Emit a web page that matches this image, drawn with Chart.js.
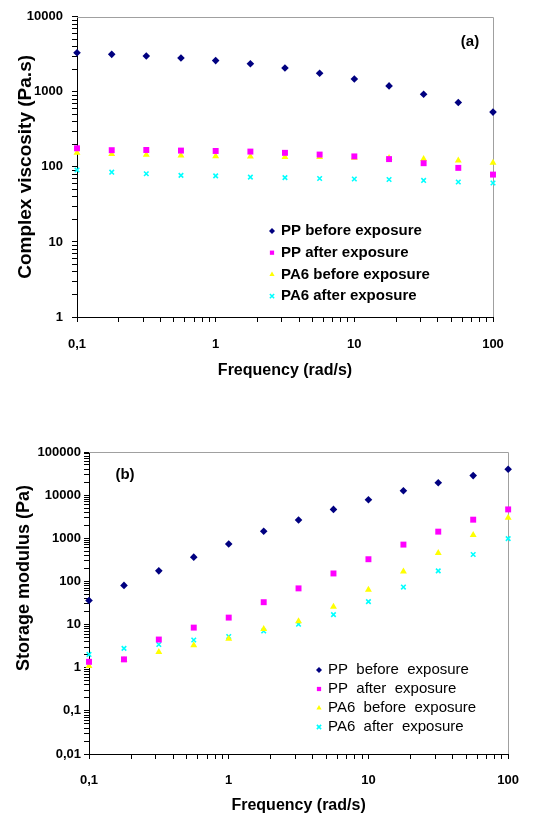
<!DOCTYPE html>
<html>
<head>
<meta charset="utf-8">
<script src="https://cdn.jsdelivr.net/npm/chart.js@4.4.0/dist/chart.umd.min.js"></script>
<style>
    body { margin: 0; background: #fff; width: 533px; height: 816px; overflow: hidden; }
    .box { position: absolute; left: 0; width: 533px; height: 392px; }
    #boxA { top: 0; }
    #boxB { top: 424px; }
</style>
</head>
<body>
<div class="box" id="boxA"><canvas id="chartA" width="533" height="392"></canvas></div>
<div class="box" id="boxB"><canvas id="chartB" width="533" height="392"></canvas></div>
<script>
// --- Data ---
const frequency = [0.1, 0.178, 0.316, 0.562, 1, 1.78, 3.16, 5.62, 10, 17.8, 31.6, 56.2, 100];
const seriesNames = ["PP before exposure", "PP after exposure", "PA6 before exposure", "PA6 after exposure"];

// (a) complex viscosity, Pa.s
const viscPPBefore  = [3320, 3160, 3010, 2830, 2610, 2370, 2080, 1770, 1480, 1200, 930, 720, 537];
const viscPPAfter   = [177, 167, 168, 165, 163, 160, 154, 146, 138, 127, 112, 97, 79];
const viscPA6Before = [154, 149, 145, 142, 139, 138, 136, 135, 132, 131, 127, 122, 114];
const viscPA6After  = [91, 85, 81, 77, 76, 73, 72, 70, 69, 68, 66, 63, 61];

// (b) storage modulus, Pa
const modPPBefore  = [36, 81, 176, 365, 740, 1450, 2650, 4670, 7800, 12600, 19300, 28400, 39800];
const modPPAfter   = [1.37, 1.56, 4.5, 8.5, 14.5, 33, 69, 153, 327, 714, 1425, 2700, 4670];
const modPA6Before = [1.09, 1.5, 2.3, 3.3, 4.7, 7.9, 11.9, 26, 64, 170, 459, 1190, 3000];
const modPA6After  = [2.03, 2.8, 3.45, 4.4, 5.3, 7.1, 10.2, 17, 34, 74, 176, 420, 980];

// tick labels (decades)
const freqTicks = [0.1, 1, 10, 100];
const viscTicks = [1, 10, 100, 1000, 10000];
const modTicks = [0.01, 0.1, 1, 10, 100, 1000, 10000, 100000];

const FONT = "'Liberation Sans', Arial, sans-serif";
Chart.defaults.font.family = FONT;
Chart.defaults.color = '#000';

const styles = [
    { pointStyle: 'rectRot', radius: 3.8, color: '#000080', border: 0 },
    { pointStyle: 'rect', radius: 4.2, color: '#FF00FF', border: 0 },
    { pointStyle: 'triangle', radius: 4, color: '#FFFF00', border: 0 },
    { pointStyle: 'crossRot', radius: 3.2, color: '#00FFFF', border: 1.6 }
];

function makeDatasets(lists) {
    return lists.map((vals, i) => ({
        label: seriesNames[i],
        data: frequency.map((f, j) => ({ x: f, y: vals[j] })),
        showLine: false,
        clip: false,
        pointStyle: styles[i].pointStyle,
        pointRadius: styles[i].radius,
        pointHoverRadius: styles[i].radius,
        backgroundColor: styles[i].color,
        borderColor: styles[i].color,
        pointBorderWidth: styles[i].border,
        borderWidth: styles[i].border
    }));
}

// 1..9 per decade between the labelled decades
function minorTicks(decades) {
    const out = [];
    for (let i = 0; i < decades.length - 1; i++)
        for (let k = 1; k < 10; k++) out.push(decades[i] * k);
    out.push(decades[decades.length - 1]);
    return out;
}

function logAxis(decades, o) {
    return {
        type: 'logarithmic',
        min: decades[0],
        max: decades[decades.length - 1],
        afterBuildTicks: scale => { scale.ticks = minorTicks(decades).map(v => ({ value: v })); },
        afterFit: scale => { if (scale.isHorizontal()) scale.height = o.size; else scale.width = o.size; },
        ticks: {
            autoSkip: false, maxRotation: 0, minRotation: 0, padding: o.pad, color: '#000',
            font: { size: 13, weight: 'bold' },
            callback: v => decades.some(d => Math.abs(d - v) < d * 1e-6) ? String(v).replace('.', ',') : ''
        },
        grid: { drawOnChartArea: false, drawTicks: true, tickLength: 5, color: '#000' },
        border: { display: true, color: '#000', width: 1 },
        title: { display: true, text: o.title, color: '#000', font: { size: o.titleSize, weight: 'bold' }, padding: o.titlePad }
    };
}

// grey frame on top / right of the plot area
const frame = {
    id: 'frame',
    beforeDatasetsDraw(chart) {
        const { ctx, chartArea: a } = chart;
        ctx.save();
        ctx.strokeStyle = '#a0a0a0';
        ctx.lineWidth = 1;
        ctx.beginPath();
        ctx.moveTo(a.left, Math.round(a.top) + 0.5);
        ctx.lineTo(Math.round(a.right) + 0.5, Math.round(a.top) + 0.5);
        ctx.lineTo(Math.round(a.right) + 0.5, a.bottom);
        ctx.stroke();
        ctx.restore();
    }
};

// legend inside the plot + panel tag
const insideLegend = {
    id: 'insideLegend',
    afterDraw(chart, args, opts) {
        const ctx = chart.ctx;
        ctx.save();
        ctx.textBaseline = 'middle';
        ctx.textAlign = 'left';
        chart.data.datasets.forEach((ds, i) => {
            const y = opts.y + i * opts.gap;
            ctx.fillStyle = ds.backgroundColor;
            ctx.strokeStyle = ds.borderColor;
            ctx.lineWidth = ds.pointBorderWidth;
            Chart.helpers.drawPoint(ctx, { pointStyle: ds.pointStyle, rotation: 0, radius: 3, borderWidth: ds.pointBorderWidth }, opts.x, y);
            ctx.fillStyle = '#000';
            ctx.font = opts.font;
            ctx.fillText(opts.spaced ? ds.label.replace(/ /g, '  ') : ds.label, opts.textX, y);
        });
        ctx.font = 'bold 15px ' + FONT;
        ctx.textAlign = 'center';
        ctx.fillText(opts.tag, opts.tagX, opts.tagY);
        ctx.restore();
    }
};

new Chart(document.getElementById('chartA'), {
    type: 'scatter',
    data: { datasets: makeDatasets([viscPPBefore, viscPPAfter, viscPA6Before, viscPA6After]) },
    options: {
        responsive: false, animation: false,
        layout: { padding: { top: 13, right: 40, left: 0, bottom: 0 } },
        scales: {
            x: logAxis(freqTicks, { size: 75, pad: 15, title: 'Frequency (rad/s)', titleSize: 16, titlePad: { top: 0, bottom: 12 } }),
            y: logAxis(viscTicks, { size: 77, pad: 9, title: 'Complex viscosity (Pa.s)', titleSize: 19, titlePad: { top: 14, bottom: 0 } })
        },
        plugins: {
            legend: { display: false }, tooltip: { enabled: false },
            insideLegend: { x: 272, y: 231, gap: 21.7, textX: 281, font: 'bold 15px ' + FONT, spaced: false, tag: '(a)', tagX: 470, tagY: 42 }
        }
    },
    plugins: [frame, insideLegend]
});

new Chart(document.getElementById('chartB'), {
    type: 'scatter',
    data: { datasets: makeDatasets([modPPBefore, modPPAfter, modPA6Before, modPA6After]) },
    options: {
        responsive: false, animation: false,
        layout: { padding: { top: 28, right: 24, left: 0, bottom: 0 } },
        scales: {
            x: logAxis(freqTicks, { size: 62, pad: 14, title: 'Frequency (rad/s)', titleSize: 16, titlePad: { top: 0, bottom: 1 } }),
            // leading spaces push the rotated title up, as in the original figure
            y: logAxis(modTicks, { size: 89, pad: 3, title: '          Storage modulus (Pa)', titleSize: 18, titlePad: { top: 13, bottom: 0 } })
        },
        plugins: {
            legend: { display: false }, tooltip: { enabled: false },
            insideLegend: { x: 319, y: 246, gap: 19, textX: 328, font: '15px ' + FONT, spaced: true, tag: '(b)', tagX: 125, tagY: 51 }
        }
    },
    plugins: [frame, insideLegend]
});
</script>
</body>
</html>
